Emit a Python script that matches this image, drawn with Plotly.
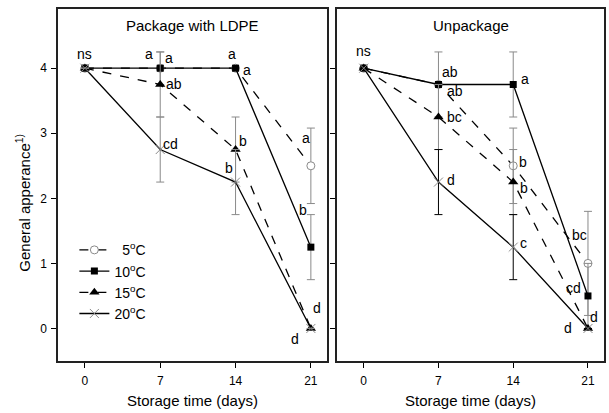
import plotly.graph_objects as go

days = [0, 7, 14, 21]
series_names = ["\u00a0\u00a05<sup>o</sup>C", "10<sup>o</sup>C", "15<sup>o</sup>C", "20<sup>o</sup>C"]

# Package with LDPE
ldpe_5 = [4, 4, 4, 2.5]
ldpe_10 = [4, 4, 4, 1.25]
ldpe_15 = [4, 3.75, 2.75, 0]
ldpe_20 = [4, 2.75, 2.25, 0]
ldpe_5_err = [0, 0.25, 0, 0.58]
ldpe_10_err = [0, 0, 0, 0.5]
ldpe_15_err = [0, 0.5, 0.5, 0]
ldpe_20_err = [0, 0.5, 0.5, 0]
ldpe_5_lab = ["", "a", "a", "a"]
ldpe_10_lab = ["ns", "a", "a", "b"]
ldpe_15_lab = ["", "ab", "b", "d"]
ldpe_20_lab = ["", "cd", "b", "d"]

# Unpackage
unp_5 = [4, 3.75, 2.5, 1.0]
unp_10 = [4, 3.75, 3.75, 0.5]
unp_15 = [4, 3.25, 2.25, 0]
unp_20 = [4, 2.25, 1.25, 0]
unp_5_err = [0, 0, 0.58, 0.8]
unp_10_err = [0, 0.5, 0.5, 0.5]
unp_15_err = [0, 0.5, 0.5, 0]
unp_20_err = [0, 0.5, 0.5, 0]
unp_5_lab = ["", "ab", "b", "bc"]
unp_10_lab = ["ns", "ab", "a", "cd"]
unp_15_lab = ["", "bc", "b", "d"]
unp_20_lab = ["", "d", "c", "d"]

x_ticks = [0, 7, 14, 21]
y_ticks = [0, 1, 2, 3, 4]

# label pixel offsets (styling)
ldpe_off = [
    [None, (9, 10), (11, -2), (-5, 28)],
    [(0, 14), (-11, 14), (-4, 14), (-8, 37)],
    [None, (14, 0), (7, 9), (6, 20)],
    [None, (10, 6), (-7, 14), (-16, -11)],
]
unp_off = [
    [None, (17, -7), (10, 4), (-8, 28)],
    [(0, 17), (12, 12), (12, 5), (-14, 8)],
    [None, (16, 0), (11, -6), (6, 11)],
    [None, (13, 2), (10, 4), (-20, 0)],
]

FONT = "Arial, Liberation Sans, sans-serif"
GRAY = "#8a8a8a"
styles = [
    dict(dash="dash", marker=dict(symbol="circle", size=8, color="white", line=dict(color=GRAY, width=1))),
    dict(dash="solid", marker=dict(symbol="square", size=7, color="black")),
    dict(dash="dash", marker=dict(symbol="triangle-up", size=9, color="black")),
    dict(dash="solid", marker=dict(symbol="x-thin-open", size=9, color=GRAY, line=dict(color=GRAY, width=1))),
]

fig = go.Figure()

panels = [
    ("x", "y", [ldpe_5, ldpe_10, ldpe_15, ldpe_20], [ldpe_5_err, ldpe_10_err, ldpe_15_err, ldpe_20_err],
     [ldpe_5_lab, ldpe_10_lab, ldpe_15_lab, ldpe_20_lab], ldpe_off, [GRAY, GRAY, GRAY, GRAY], True),
    ("x2", "y2", [unp_5, unp_10, unp_15, unp_20], [unp_5_err, unp_10_err, unp_15_err, unp_20_err],
     [unp_5_lab, unp_10_lab, unp_15_lab, unp_20_lab], unp_off, [GRAY, GRAY, GRAY, "black"], False),
]

annotations = []
for xa, ya, vals, errs, labs, offs, ecols, show in panels:
    for i in range(4):
        st = styles[i]
        fig.add_trace(go.Scatter(
            x=days, y=vals[i], xaxis=xa, yaxis=ya, mode="lines+markers",
            name=series_names[i], legendgroup=f"g{i}", showlegend=show,
            line=dict(color="black", width=1.3, dash=st["dash"]),
            marker=st["marker"],
            error_y=dict(type="data", array=errs[i], visible=True, color=ecols[i], thickness=1, width=4),
        ))
        for j in range(4):
            if labs[i][j] and offs[i][j] is not None:
                dx, dy = offs[i][j]
                annotations.append(dict(
                    x=days[j], y=vals[i][j], xref=xa, yref=ya, text=labs[i][j], showarrow=False,
                    xshift=dx, yshift=dy, font=dict(family=FONT, size=14, color="black"),
                ))

annotations += [
    dict(x=10, y=4.66, xref="x", yref="y", text="Package with LDPE", showarrow=False,
         xanchor="center", font=dict(family=FONT, size=15, color="black")),
    dict(x=10, y=4.66, xref="x2", yref="y2", text="Unpackage", showarrow=False,
         xanchor="center", font=dict(family=FONT, size=15, color="black")),
    dict(x=0.2464, y=-0.111, xref="paper", yref="paper", text="Storage time (days)", showarrow=False,
         xanchor="center", yanchor="middle", font=dict(family=FONT, size=15, color="black")),
    dict(x=0.755, y=-0.111, xref="paper", yref="paper", text="Storage time (days)", showarrow=False,
         xanchor="center", yanchor="middle", font=dict(family=FONT, size=15, color="black")),
    dict(x=-0.064, y=0.45, xref="paper", yref="paper", text="General apperance<sup>1)</sup>",
         showarrow=False, textangle=-90, xanchor="center", yanchor="middle",
         font=dict(family=FONT, size=15, color="black")),
]

axis_common = dict(range=[-2.5, 22.5], tickvals=x_ticks, ticks="outside", ticklen=5, tickwidth=1,
                   tickcolor="black", showline=True, linecolor="#222", linewidth=1.5, mirror=True,
                   showgrid=False, zeroline=False, tickfont=dict(family=FONT, size=12, color="black"),
                   ticklabelstandoff=3)
yaxis_common = dict(range=[-0.5, 4.91], tickvals=y_ticks, ticks="outside", ticklen=5, tickwidth=1,
                    tickcolor="black", showline=True, linecolor="#222", linewidth=1.5, mirror=True,
                    showgrid=False, zeroline=False, tickfont=dict(family=FONT, size=12, color="black"),
                    ticklabelstandoff=2)

fig.update_layout(
    width=609, height=413,
    margin=dict(l=58, r=3, t=9, b=52),
    paper_bgcolor="white", plot_bgcolor="white",
    xaxis=dict(domain=[0, 0.4927], anchor="y", **axis_common),
    xaxis2=dict(domain=[0.511, 1], anchor="y2", **axis_common),
    yaxis=dict(domain=[0, 1], anchor="x", **yaxis_common),
    yaxis2=dict(domain=[0, 1], anchor="x2", showticklabels=False, **yaxis_common),
    annotations=annotations,
    showlegend=True,
    legend=dict(x=0.03, y=0.36, xanchor="left", yanchor="top", bgcolor="rgba(0,0,0,0)",
                font=dict(family=FONT, size=14, color="black"), traceorder="grouped",
                tracegroupgap=0, itemwidth=30),
)

fig.write_html("out.html", config={"displayModeBar": False},
               post_script="document.body.style.margin='0px';document.body.style.overflow='hidden';")
